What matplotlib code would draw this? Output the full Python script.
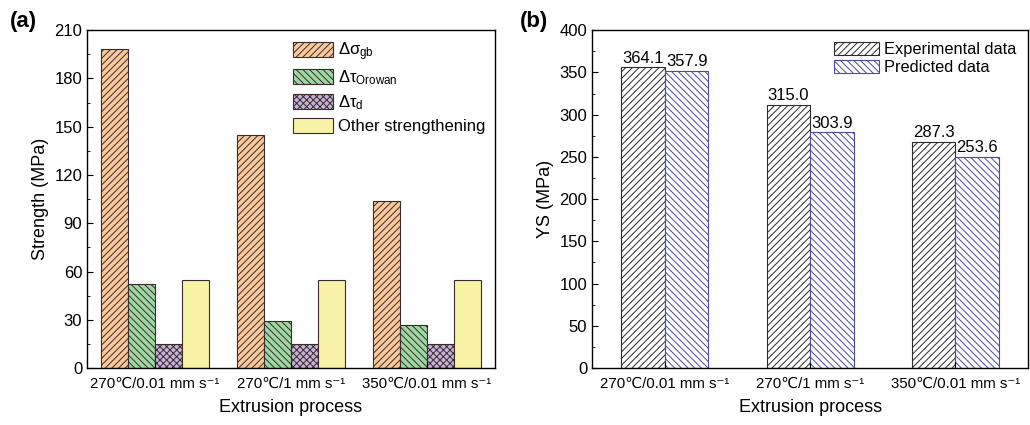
import matplotlib
matplotlib.use('Agg')
import matplotlib.pyplot as plt
import numpy as np
from matplotlib.ticker import MultipleLocator

plt.rcParams['font.family'] = ['Liberation Sans', 'DejaVu Sans']
plt.rcParams['mathtext.fontset'] = 'custom'
plt.rcParams['mathtext.rm'] = 'Liberation Sans'
plt.rcParams['mathtext.it'] = 'Liberation Sans'
plt.rcParams['hatch.linewidth'] = 0.7

# data
processes = ['270\u2103/0.01 mm s\u207b\u00b9', '270\u2103/1 mm s\u207b\u00b9', '350\u2103/0.01 mm s\u207b\u00b9']
contrib_names = [r'$\Delta\sigma_{\rm gb}$', r'$\Delta\tau_{\rm Orowan}$', r'$\Delta\tau_{\rm d}$',
                 'Other strengthening']
sigma_gb = [198, 145, 104]
tau_orowan = [52, 29, 27]
tau_d = [15, 15, 15]
other = [55, 55, 55]

exp_ys = [356, 312, 268]
pred_ys = [352, 279, 250]
exp_text = ['364.1', '315.0', '287.3']
pred_text = ['357.9', '303.9', '253.6']

fig = plt.figure(figsize=(10.3, 4.25), dpi=100)
ax1 = fig.add_axes([0.0845, 0.134, 0.396, 0.795])
ax2 = fig.add_axes([0.575, 0.134, 0.423, 0.795])

x = np.arange(len(processes))

# (a) strengthening contributions
w = 0.2
fills = ['#F9C99C', '#9DD8A2', '#C4B3DA', '#F8F3A6']
hatches = ['/////', '\\\\\\\\\\', 'xxxxx', '']
series = [sigma_gb, tau_orowan, tau_d, other]
for i, vals in enumerate(series):
    ax1.bar(x + (i - 1.5) * w, vals, w, color=fills[i], edgecolor='#3a2a2a',
            hatch=hatches[i], linewidth=0.8, label=contrib_names[i])
ax1.set_xlim(-0.5, 2.5)
ax1.set_ylim(0, 210)
ax1.yaxis.set_major_locator(MultipleLocator(30))
ax1.yaxis.set_minor_locator(MultipleLocator(15))
ax1.set_xticks(x)
ax1.set_xticklabels(processes, fontsize=10.8)
ax1.set_ylabel('Strength (MPa)', fontsize=13)
ax1.set_xlabel('Extrusion process', fontsize=13, labelpad=6)
ax1.tick_params(axis='y', labelsize=12)
ax1.tick_params(axis='x', pad=6)
ax1.legend(loc='upper right', frameon=False, fontsize=12, handlelength=2.4, handleheight=1.0,
           borderaxespad=0.2, labelspacing=0.35, handletextpad=0.3)

# (b) experimental vs predicted YS
bw = 0.3
ax2.bar(x - bw / 2, exp_ys, bw, color='white', edgecolor='#2a2a2a', hatch='/////',
        linewidth=0.8, label='Experimental data')
ax2.bar(x + bw / 2, pred_ys, bw, color='white', edgecolor='#4a4aa0', hatch='\\\\\\\\\\',
        linewidth=0.8, label='Predicted data')
for i in range(len(processes)):
    ax2.text(x[i] - bw / 2, exp_ys[i] + 2, exp_text[i], ha='center', va='bottom', fontsize=12)
    ax2.text(x[i] + bw / 2, pred_ys[i] + 2, pred_text[i], ha='center', va='bottom', fontsize=12)
ax2.set_xlim(-0.5, 2.5)
ax2.set_ylim(0, 400)
ax2.yaxis.set_major_locator(MultipleLocator(50))
ax2.yaxis.set_minor_locator(MultipleLocator(25))
ax2.set_xticks(x)
ax2.set_xticklabels(processes, fontsize=10.8)
ax2.set_ylabel('YS (MPa)', fontsize=13)
ax2.set_xlabel('Extrusion process', fontsize=13, labelpad=6)
ax2.tick_params(axis='y', labelsize=12)
ax2.tick_params(axis='x', pad=6)
ax2.legend(loc='upper right', frameon=False, fontsize=11.8, handlelength=2.75, handleheight=0.9,
           borderaxespad=0.3, labelspacing=0.15, handletextpad=0.3)

for ax in (ax1, ax2):
    ax.tick_params(which='both', direction='in', top=False, right=False)
    ax.tick_params(which='major', length=4)
    ax.tick_params(which='minor', length=2)
    ax.xaxis.set_minor_locator(MultipleLocator(0.5))
    ax.tick_params(axis='x', which='minor', length=0)
    for s in ax.spines.values():
        s.set_linewidth(1.0)

fig.text(0.01, 0.975, '(a)', fontsize=16, fontweight='bold', va='top')
fig.text(0.505, 0.975, '(b)', fontsize=16, fontweight='bold', va='top')

fig.savefig('out.png', dpi=100)
